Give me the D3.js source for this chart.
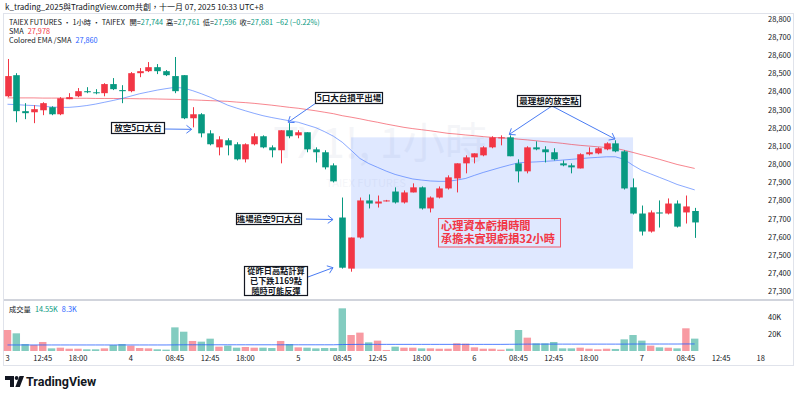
<!DOCTYPE html>
<html>
<head>
<meta charset="utf-8">
<title>TX1! 1小時</title>
<script src="https://cdn.jsdelivr.net/npm/d3@7"></script>
<style>
  body{margin:0;background:#fff;overflow:hidden;}
  svg{display:block;font-family:"Noto Sans CJK TC","Noto Sans",sans-serif;}
</style>
</head>
<body>
<svg id="chart" width="800" height="397"></svg>
<script>
// hourly candles, Nov 3 08:45 -> Nov 7 09:45
var opens=[28375,28491,28293,28287,28298,28315,28276,28359,28375,28403,
  28397,28392,28442,28409,28403,28502,28513,28535,28513,28486,
  28491,28254,28276,28171,28094,28133,28111,28028,28111,28155,
  28094,28078,28188,28160,28177,28083,28067,27995,27708,27427,
  27598,27802,27785,27800,27851,27791,27846,27874,27758,27818,
  27868,27923,28006,28039,28050,28094,28144,28149,28006,27962,
  28094,28083,28067,28006,27995,27978,28056,28061,28083,28116,
  28072,27874,27730,27631,27736,27730,27785,27736,27744];
var highs=[28580,28502,28337,28326,28342,28320,28370,28392,28420,28425,
  28414,28447,28475,28436,28508,28530,28563,28552,28519,28591,
  28491,28315,28282,28188,28155,28144,28122,28116,28171,28160,
  28105,28188,28227,28188,28177,28094,28078,28006,27818,27598,
  27818,27835,27829,27805,27874,27857,27896,27879,27824,27879,
  27940,28006,28050,28061,28100,28155,28160,28160,28028,28100,
  28127,28100,28089,28022,28006,28061,28094,28094,28122,28133,
  28078,27923,27774,27747,27802,27813,27802,27829,27761];
var lows=[28370,28232,28249,28227,28271,28271,28271,28359,28370,28392,
  28386,28375,28409,28337,28397,28480,28508,28497,28486,28392,
  28249,28204,28149,28105,28050,28050,28022,28011,28105,28089,
  28039,28006,28144,28144,28067,28011,27973,27901,27427,27410,
  27592,27758,27763,27796,27785,27785,27846,27752,27736,27813,
  27862,27846,27951,28006,28045,28089,28105,28045,27901,27951,
  28078,28011,28022,27990,27951,27978,28050,28056,28078,28067,
  27862,27725,27609,27625,27653,27725,27653,27675,27596];
var closes=[28486,28293,28282,28304,28337,28276,28364,28370,28403,28397,
  28392,28442,28414,28403,28502,28513,28535,28513,28491,28403,
  28254,28276,28171,28111,28138,28105,28028,28111,28155,28094,
  28078,28188,28155,28177,28083,28067,27984,27907,27432,27598,
  27802,27785,27796,27802,27791,27846,27874,27758,27818,27868,
  27929,28006,28039,28061,28094,28149,28149,28045,27962,28094,
  28083,28067,28028,27995,27984,28056,28067,28089,28116,28072,
  27868,27730,27631,27736,27730,27785,27658,27769,27681];
// volume in K contracts
var volumes=[24.7,20.8,8.2,7.0,10.6,3.1,3.9,2.7,2.7,2.0,
  2.0,3.1,7.0,8.2,6.3,3.5,3.1,2.0,1.6,27.8,
  22.7,11.8,11.0,14.5,5.1,6.3,3.9,4.7,3.9,3.9,
  3.5,11.8,8.2,4.3,3.9,3.1,3.5,3.5,50.2,18.8,
  21.6,10.2,12.2,1.2,5.1,3.9,3.9,3.1,3.1,2.7,
  2.7,9.0,8.6,4.3,2.7,2.7,1.6,2.7,24.7,15.7,
  9.0,9.0,10.6,3.1,3.1,3.9,2.7,2.0,2.7,2.4,
  13.7,18.8,12.2,6.3,4.3,3.9,3.1,26.7,14.55];
var volAvg=[7.1,7.1,7.1,7.1,7.1,7.1,7.1,7.1,7.1,7.1,
  7.1,7.1,7.1,7.1,7.1,7.1,7.1,7.1,7.1,7.2,
  7.3,7.3,7.3,7.3,7.3,7.3,7.3,7.3,7.3,7.3,
  7.3,7.3,7.3,7.3,7.3,7.3,7.3,7.3,7.6,7.7,
  7.8,7.8,7.8,7.8,7.8,7.8,7.8,7.8,7.8,7.8,
  7.8,7.8,7.8,7.8,7.8,7.8,7.8,7.9,8.0,8.1,
  8.1,8.1,8.1,8.1,8.1,8.1,8.1,8.1,8.1,8.1,
  8.1,8.2,8.2,8.2,8.2,8.2,8.2,8.3,8.3];
var smaLine=[28366,28366,28366,28366,28365,28365,28365,28364,28364,28364,
  28363,28363,28363,28362,28362,28361,28361,28360,28359,28358,
  28357,28355,28353,28351,28349,28347,28343,28340,28336,28331,
  28326,28320,28314,28309,28302,28295,28287,28279,28268,28260,
  28251,28241,28232,28222,28213,28204,28197,28191,28185,28178,
  28171,28167,28162,28158,28153,28149,28146,28144,28139,28135,
  28130,28125,28121,28116,28110,28105,28101,28097,28093,28089,
  28078,28066,28053,28041,28028,28014,28000,27989,27978];
var emaLine=[28331,28329,28326,28324,28320,28316,28314,28314,28318,28324,
  28332,28342,28352,28363,28376,28389,28399,28409,28417,28424,
  28420,28406,28389,28370,28348,28326,28310,28295,28281,28268,
  28258,28249,28240,28232,28217,28202,28180,28155,28122,28078,
  28033,28005,27984,27963,27945,27932,27920,27914,27909,27907,
  27907,27914,27923,27940,27956,27970,27984,27997,28009,28012,
  28014,28017,28020,28024,28028,28032,28036,28039,28042,28042,
  28028,27995,27967,27948,27929,27910,27890,27875,27860];
var timeTicks=[[0,"3"],[4,"12:45"],[8,"18:00"],[14,"4"],[19,"08:45"],[23,"12:45"],
  [27,"18:00"],[33,"5"],[38,"08:45"],[42,"12:45"],[47,"18:00"],[53,"6"],
  [58,"08:45"],[62,"12:45"],[66,"18:00"],[72,"7"],[77,"08:45"],[81,"12:45"],[85.5,"18"]];
var priceTicks=[28800,28700,28600,28500,28400,28300,28200,28100,28000,27900,27800,27700,27600,27500,27400,27300];
var volTicks=[20,40];
// shaded holding period: candle 39 -> 71, price band
var holdZone={from:39,to:71,top:28149,bottom:27427};

var UP="#f23645",DOWN="#089981";
var svg=d3.select("#chart");
var fmt=d3.format(",");

var x=d3.scaleLinear().domain([0,78]).range([7.5,694.7]);
var y=d3.scaleLinear().domain([27300,28800]).range([291.7,19]);
var yv=d3.scaleLinear().domain([0,40]).range([351,317]);

// frame
svg.append("rect").attr("x",3.5).attr("y",13.5).attr("width",790).attr("height",352)
  .attr("fill","none").attr("stroke","#e0e3eb");
svg.append("line").attr("x1",4).attr("x2",793).attr("y1",300).attr("y2",300)
  .attr("stroke","#d1d4dc").attr("stroke-width",2);

svg.append("clipPath").attr("id","mainclip").append("rect")
  .attr("x",4).attr("y",14).attr("width",741).attr("height",285);
var main=svg.append("g").attr("clip-path","url(#mainclip)");

// watermark
var wm=main.append("text").attr("text-anchor","middle").attr("fill","#dfe3ec").attr("fill-opacity",0.35);
wm.append("tspan").attr("x",380).attr("y",158).attr("font-size",42).text("TX1!, 1小時");
wm.append("tspan").attr("x",366).attr("y",187).attr("font-size",11).text("TAIEX FUTURES");

// shaded zone
main.append("rect")
  .attr("x",x(holdZone.from)).attr("y",y(holdZone.top))
  .attr("width",x(holdZone.to)-x(holdZone.from))
  .attr("height",y(holdZone.bottom)-y(holdZone.top))
  .attr("fill","#2962ff").attr("fill-opacity",0.15);

// moving averages
var idx=d3.range(opens.length);
main.append("path").datum(idx)
  .attr("d",d3.line().x(function(i){return x(i);}).y(function(i){return y(smaLine[i]);}))
  .attr("fill","none").attr("stroke","#f23645").attr("stroke-opacity",0.6).attr("stroke-width",1);
main.append("path").datum(idx)
  .attr("d",d3.line().x(function(i){return x(i);}).y(function(i){return y(emaLine[i]);}))
  .attr("fill","none").attr("stroke","#2962ff").attr("stroke-opacity",0.55).attr("stroke-width",1);

// candles
var bw=6.6;
var cg=main.selectAll("g.candle").data(idx).enter().append("g").attr("class","candle");
cg.append("line")
  .attr("x1",function(i){return Math.round(x(i))+0.5;})
  .attr("x2",function(i){return Math.round(x(i))+0.5;})
  .attr("y1",function(i){return y(highs[i]);})
  .attr("y2",function(i){return y(lows[i]);})
  .attr("stroke",function(i){return closes[i]>=opens[i]?UP:DOWN;});
cg.append("rect")
  .attr("x",function(i){return Math.round(x(i))+0.5-bw/2;})
  .attr("width",bw)
  .attr("y",function(i){return y(Math.max(opens[i],closes[i]));})
  .attr("height",function(i){return Math.max(1,Math.abs(y(opens[i])-y(closes[i])));})
  .attr("fill",function(i){return closes[i]>=opens[i]?UP:DOWN;});

// volume pane
var vw=7.4;
svg.selectAll("rect.vol").data(idx).enter().append("rect").attr("class","vol")
  .attr("x",function(i){return x(i)-vw/2;})
  .attr("width",vw)
  .attr("y",function(i){return yv(volumes[i]);})
  .attr("height",function(i){return yv(0)-yv(volumes[i]);})
  .attr("fill",function(i){return closes[i]>=opens[i]?UP:DOWN;})
  .attr("fill-opacity",0.5);
svg.append("path").datum(idx)
  .attr("d",d3.line().x(function(i){return x(i);}).y(function(i){return yv(volAvg[i]);}))
  .attr("fill","none").attr("stroke","#2962ff").attr("stroke-opacity",0.8).attr("stroke-width",1);

// price axis
svg.selectAll("text.pt").data(priceTicks).enter().append("text").attr("class","pt")
  .attr("x",768).attr("y",function(d){return y(d);}).attr("dy","0.35em")
  .attr("font-size",7.5).attr("fill","#131722").text(function(d){return fmt(d);});
svg.selectAll("text.vt").data(volTicks).enter().append("text").attr("class","vt")
  .attr("x",768).attr("y",function(d){return yv(d);}).attr("dy","0.35em")
  .attr("font-size",7.5).attr("fill","#131722").text(function(d){return d+"K";});

// time axis
svg.selectAll("text.tt").data(timeTicks).enter().append("text").attr("class","tt")
  .attr("x",function(d){return x(d[0]);}).attr("y",358).attr("dy","0.35em")
  .attr("text-anchor","middle").attr("font-size",7.5).attr("fill","#131722")
  .text(function(d){return d[1];});

// header + legends
svg.append("text").attr("x",5).attr("y",7).attr("dy","0.35em").attr("font-size",8)
  .attr("fill","#131722").text("k_trading_2025與TradingView.com共創，十一月 07, 2025 10:33 UTC+8");
var last=opens.length-1;
var lg=svg.append("text").attr("x",9).attr("y",22).attr("dy","0.35em").attr("font-size",7.3).attr("fill","#131722");
lg.append("tspan").text("TAIEX FUTURES · 1小時 · TAIFEX  ");
[["開",opens[last]],["高",highs[last]],["低",lows[last]],["收",closes[last]]].forEach(function(p){
  lg.append("tspan").attr("dx",3).text(p[0]+"=");
  lg.append("tspan").attr("fill",DOWN).text(fmt(p[1]));
});
lg.append("tspan").attr("dx",3).attr("fill",DOWN).text("\u221262 (\u22120.22%)");
var l2=svg.append("text").attr("x",9).attr("y",31).attr("dy","0.35em").attr("font-size",7.3).attr("fill","#131722");
l2.append("tspan").text("SMA");
l2.append("tspan").attr("dx",4).attr("fill","#f23645").text(fmt(smaLine[last]));
var l3=svg.append("text").attr("x",9).attr("y",40).attr("dy","0.35em").attr("font-size",7.3).attr("fill","#131722");
l3.append("tspan").text("Colored EMA /SMA");
l3.append("tspan").attr("dx",4).attr("fill","#2962ff").text(fmt(emaLine[last]));
var l4=svg.append("text").attr("x",9).attr("y",309).attr("dy","0.35em").attr("font-size",7.3).attr("fill","#131722");
l4.append("tspan").text("成交量");
l4.append("tspan").attr("dx",4).attr("fill",DOWN).text(volumes[last]+"K");
l4.append("tspan").attr("dx",4).attr("fill","#2962ff").text(volAvg[last]+"K");

// annotations: box in px, arrow tips at [candle index, price]
var notes=[
  {lines:["放空5口大台"],box:[111,122,53,11],arrows:[[[165,129],[20.9,28193]]]},
  {lines:["5口大台損平出場"],box:[315,92,67,11],arrows:[[[316,103],[31.85,28232]]]},
  {lines:["最理想的放空點"],box:[517,95,63,11],arrows:[[[552,106],[56.95,28165]],[[552,106],[68.95,28140]]]},
  {lines:["進場追空9口大台"],box:[236,213,65,11],arrows:[[[306,219],[36.95,27697]]]},
  {lines:["從昨日高點計算","已下跌1169點","隨時可能反彈"],box:[244,266,63,29],arrows:[[[308,277],[36.95,27432]]]}
];
var ag=svg.append("g");
notes.forEach(function(n){
  n.arrows.forEach(function(a){
    var x0=a[0][0],y0=a[0][1],x1=x(a[1][0]),y1=y(a[1][1]);
    var ang=Math.atan2(y1-y0,x1-x0),L=6.5,s=0.65;
    ag.append("path")
      .attr("d","M"+x0+","+y0+"L"+x1+","+y1+
        "M"+(x1-L*Math.cos(ang-s))+","+(y1-L*Math.sin(ang-s))+"L"+x1+","+y1+
        "L"+(x1-L*Math.cos(ang+s))+","+(y1-L*Math.sin(ang+s)))
      .attr("fill","none").attr("stroke","#4a7cf3").attr("stroke-width",1);
  });
  ag.append("rect").attr("x",n.box[0]+0.5).attr("y",n.box[1]+0.5).attr("width",n.box[2]).attr("height",n.box[3])
    .attr("fill","#fff").attr("stroke","#131722").attr("stroke-width",1.2);
  var multi=n.lines.length>1;
  var t=ag.append("text").attr("text-anchor","middle").attr("font-size",multi?8.2:8.5).attr("font-weight","bold")
    .attr("fill","#131722");
  n.lines.forEach(function(s,k){
    t.append("tspan").attr("x",n.box[0]+n.box[2]/2+0.5)
      .attr("y",n.box[1]+5.6+k*9.6).attr("dy","0.35em").text(s);
  });
});
// red comment box
var rb=svg.append("g");
rb.append("rect").attr("x",438.5).attr("y",218.5).attr("width",122).attr("height",28.5)
  .attr("fill","none").attr("stroke","#f23645").attr("stroke-opacity",0.8);
var rt=rb.append("text").attr("font-size",11.2).attr("font-weight","bold").attr("fill","#f23645");
["心理資本虧損時間","承擔未實現虧損32小時"].forEach(function(s,k){
  rt.append("tspan").attr("x",441).attr("y",226+k*13.2).attr("dy","0.35em").text(s);
});

// logo
var logo=svg.append("g").attr("fill","#131722");
logo.append("path").attr("d","M5,376H14V387H10V380H5Z");
logo.append("circle").attr("cx",16.6).attr("cy",378).attr("r",1.9);
logo.append("path").attr("d","M19.5,376H24L19.8,387H15.3Z");
logo.append("text").attr("x",26).attr("y",381).attr("dy","0.36em").attr("font-size",12.5)
  .attr("font-weight","bold").attr("font-family","Roboto, 'Noto Sans', sans-serif").text("TradingView");
</script>
</body>
</html>
